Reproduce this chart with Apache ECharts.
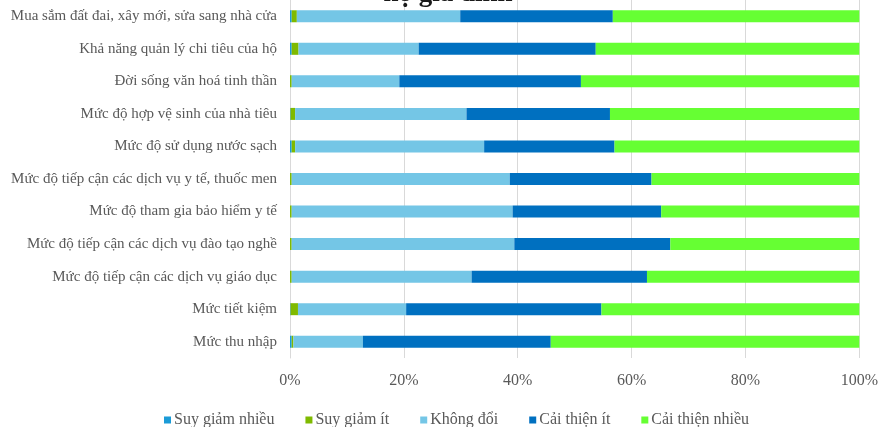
<!DOCTYPE html>
<html>
<head>
<meta charset="UTF-8">
<title>Chart</title>
<script src="https://cdn.jsdelivr.net/npm/echarts@6/dist/echarts.min.js"></script>
<style>
  body { margin: 0; background: #fff; }
  #main { width: 881px; height: 427px; }
</style>
</head>
<body>
<div id="main"></div>
<script type="text/javascript">
	// categories, top to bottom
	var categories = [
		'Mua sắm đất đai, xây mới, sửa sang nhà cửa',
		'Khả năng quản lý chi tiêu của hộ',
		'Đời sống văn hoá tinh thần',
		'Mức độ hợp vệ sinh của nhà tiêu',
		'Mức độ sử dụng nước sạch',
		'Mức độ tiếp cận các dịch vụ y tế, thuốc men',
		'Mức độ tham gia bảo hiểm y tế',
		'Mức độ tiếp cận các dịch vụ đào tạo nghề',
		'Mức độ tiếp cận các dịch vụ giáo dục',
		'Mức tiết kiệm',
		'Mức thu nhập'
	];
	var seriesNames = ['Suy giảm nhiều', 'Suy giảm ít', 'Không đổi', 'Cải thiện ít', 'Cải thiện nhiều'];
	var suyGiamNhieu  = [0.3, 0.3, 0.0, 0.1, 0.3, 0.0, 0.0, 0.0, 0.0, 0.1, 0.3];
	var suyGiamIt     = [0.9, 1.2, 0.3, 0.8, 0.6, 0.3, 0.3, 0.3, 0.3, 1.3, 0.3];
	var khongDoi      = [28.7, 21.1, 18.9, 30.1, 33.2, 38.3, 38.8, 39.1, 31.6, 19.0, 12.2];
	var caiThienIt    = [26.8, 31.1, 31.9, 25.2, 22.9, 24.9, 26.1, 27.4, 30.8, 34.3, 33.0];
	var caiThienNhieu = [43.3, 46.3, 48.9, 43.8, 43.0, 36.5, 34.8, 33.2, 37.3, 45.3, 54.2];
	var xTicks = [0, 20, 40, 60, 80, 100];

	var colors = ['#1b9bd7', '#7fba00', '#74c6e6', '#0070c0', '#66ff33'];
	var values = [suyGiamNhieu, suyGiamIt, khongDoi, caiThienIt, caiThienNhieu];
	var font = '"Liberation Serif", "DejaVu Serif", serif';

	var myChart = echarts.init(document.getElementById('main'));

	var series = [];
	for (var i = 0; i < seriesNames.length; i++) {
		series.push({
			name: seriesNames[i],
			type: 'bar',
			stack: 'total',
			barWidth: 12,
			itemStyle: { color: colors[i] },
			data: values[i]
		});
	}

	var option = {
		animation: false,
		title: {
			text: 'hộ gia đình',
			left: 443,
			textAlign: 'center',
			top: -24,
			textStyle: { fontFamily: font, fontSize: 27, fontWeight: 'bold', color: '#1a1a1a' }
		},
		legend: {
			data: seriesNames,
			left: 159,
			top: 407,
			icon: 'rect',
			itemWidth: 7,
			itemHeight: 7,
			itemGap: 31,
			textStyle: { fontFamily: font, fontSize: 16, color: '#595959', padding: [0, 0, 0, -2] }
		},
		grid: { left: 290, right: 17, top: 0, bottom: 69, containLabel: false },
		xAxis: {
			type: 'value',
			min: xTicks[0],
			max: xTicks[xTicks.length - 1],
			interval: 20,
			axisLine: { show: false },
			axisTick: { show: false },
			splitLine: { lineStyle: { color: '#d9d9d9' } },
			axisLabel: { formatter: '{value}%', fontFamily: font, fontSize: 16, color: '#595959', margin: 15 }
		},
		yAxis: {
			type: 'category',
			inverse: true,
			data: categories,
			axisLine: { show: true, lineStyle: { color: '#d9d9d9' } },
			axisTick: { show: false },
			axisLabel: { fontFamily: font, fontSize: 15, color: '#595959', margin: 13 }
		},
		series: series
	};

	myChart.setOption(option);
</script>
</body>
</html>
